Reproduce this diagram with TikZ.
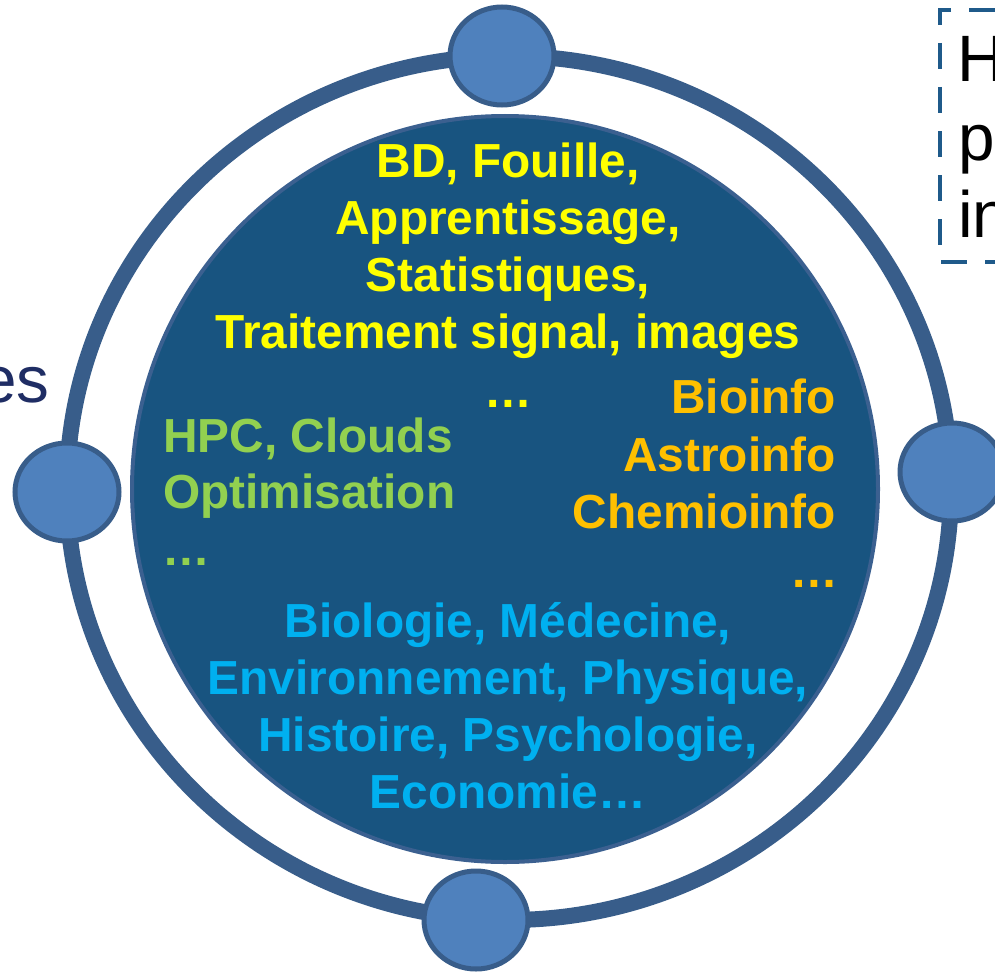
\documentclass[tikz,border=0pt]{standalone}
\usepackage{fontspec}
\setmainfont{Liberation Sans}
\usetikzlibrary{positioning,shapes.geometric}

\definecolor{ringblue}{HTML}{385D8A}
\definecolor{hubblue}{HTML}{4F81BD}
\definecolor{coreblue}{HTML}{185480}
\definecolor{coreedge}{HTML}{3B6090}
\definecolor{boxblue}{HTML}{1F5A8A}
\definecolor{navy}{HTML}{1F2D64}
\definecolor{dataYellow}{HTML}{FFFF00}
\definecolor{infoOrange}{HTML}{FFC000}
\definecolor{hpcGreen}{HTML}{92D050}
\definecolor{appBlue}{HTML}{00B0F0}

\newcommand{\bigbold}{\fontsize{47.8}{57}\selectfont\bfseries}
\newcommand{\bigplain}{\fontsize{65.6}{78}\selectfont}

\begin{document}
\begin{tikzpicture}[x=1pt,y=-1pt,
    hub/.style={ellipse,draw=ringblue,fill=hubblue,line width=5pt,
                minimum width=104pt,minimum height=98pt,inner sep=0pt},
    field/.style={font=\bigbold,inner sep=0pt}]

  \useasboundingbox (0,0) rectangle (995,971);
  \clip (0,0) rectangle (995,971);

  \node [ellipse,draw=ringblue,line width=16pt,
         minimum width=884pt,minimum height=864pt] (ring) at (509,488) {};

  \node [circle,draw=coreedge,fill=coreblue,line width=4pt,
         minimum size=746pt] (core) at (505,489) {};

  \node [hub] (hubN) at (502,56) {};
  \node [hub] (hubW) at (67,492) {};
  \node [hub] (hubE) at (952,472) {};
  \node [hub] (hubS) at (476,920) {};

  \node [field,dataYellow,anchor=base] (data1) at (508,177) {BD, Fouille,};
  \node [field,dataYellow,anchor=base] (data2) at (508,234) {Apprentissage,};
  \node [field,dataYellow,anchor=base] (data3) at (508,291) {Statistiques,};
  \node [field,dataYellow,anchor=base] (data4) at (508,348)
        {Traitement signal, images};
  \node [field,dataYellow,anchor=base] (data5) at (508,407) {…};

  \node [field,hpcGreen,anchor=base west] (hpc1) at (163,452) {HPC, Clouds};
  \node [field,hpcGreen,anchor=base west] (hpc2) at (163,508) {Optimisation};
  \node [field,hpcGreen,anchor=base west] (hpc3) at (162,565) {…};

  \node [field,infoOrange,anchor=base east] (info1) at (836,413) {Bioinfo};
  \node [field,infoOrange,anchor=base east] (info2) at (836,471) {Astroinfo};
  \node [field,infoOrange,anchor=base east] (info3) at (836,528) {Chemioinfo};
  \node [field,infoOrange,anchor=base east] (info4) at (838,587) {…};

  \node [field,appBlue,anchor=base] (app1) at (508,637) {Biologie, Médecine,};
  \node [field,appBlue,anchor=base] (app2) at (508,694)
        {Environnement, Physique,};
  \node [field,appBlue,anchor=base] (app3) at (508,751)
        {Histoire, Psychologie,};
  \node [field,appBlue,anchor=base] (app4) at (508,808) {Economie…};

  \draw [boxblue,line width=4pt,dash pattern=on 26pt off 18pt,dash phase=27pt]
  (1100,10) -- (940,10) -- (940,262) -- (1100,262);

  \node [font=\bigplain,inner sep=0pt,anchor=base west] (note1) at (957,82) {H};
  \node [font=\bigplain,inner sep=0pt,anchor=base west] (note2) at (958,160) {p};
  \node [font=\bigplain,inner sep=0pt,anchor=base west] (note3) at (958,237) {in};

  \node [font=\bigplain,navy,inner sep=0pt,anchor=base east] (side) at (50,402) {es};

\end{tikzpicture}
\end{document}
